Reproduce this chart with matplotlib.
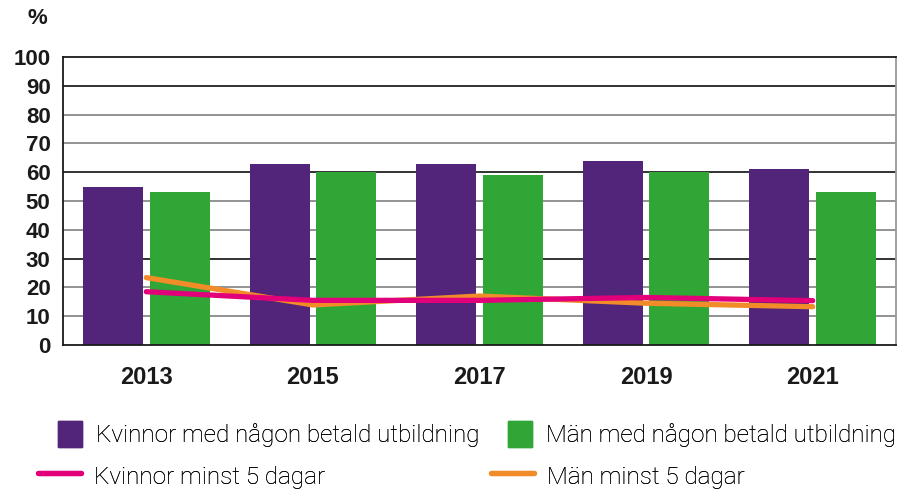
import numpy as np
import matplotlib

matplotlib.use("agg")
import matplotlib.pyplot as plt
from matplotlib.patches import Patch
from matplotlib.lines import Line2D

years = ["2013", "2015", "2017", "2019", "2021"]
kvinnor_utb = [55, 63, 63, 64, 61]
man_utb = [53, 60, 59, 60, 53]
kvinnor_5d = [18.5, 15.5, 15.5, 16.5, 15.4]
man_5d = [23.4, 13.9, 17, 14.5, 13.3]

purple = "#52247A"
green = "#30A636"
pink = "#E2007A"
orange = "#F28C28"

bold_font = ["Liberation Sans", "DejaVu Sans"]
legend_font = {"family": ["Roboto", "DejaVu Sans"], "weight": "light", "size": 17.5}

fig = plt.figure(figsize=(9, 4.9), dpi=100)
ax = fig.add_axes([63 / 900, 1 - 345 / 490, 833 / 900, 288 / 490])

x = np.arange(len(years))
w = 0.36
off = 0.2

# gridlines, a darker one every third step like the original
for v in range(10, 100, 10):
    col = "#222222" if v % 30 == 0 else "#8a8a8a"
    ax.axhline(v, color=col, lw=1.3, zorder=0)

ax.bar(x - off, kvinnor_utb, w, color=purple, zorder=2)
ax.bar(x + off, man_utb, w, color=green, zorder=2)
ax.plot(x, man_5d, color=orange, lw=3.8, solid_capstyle="round", zorder=3)
ax.plot(x, kvinnor_5d, color=pink, lw=3.8, solid_capstyle="round", zorder=4)

ax.set_xlim(-0.5, 4.5)
ax.set_ylim(0, 100)
ax.set_yticks(range(0, 101, 10))
ax.set_xticks(x)
ax.set_xticklabels(years)
ax.tick_params(axis="both", length=0)
ax.tick_params(axis="y", pad=9, labelsize=16)
ax.tick_params(axis="x", pad=15, labelsize=17)
for lab in ax.get_xticklabels() + ax.get_yticklabels():
    lab.set_fontweight("bold")
    lab.set_family(bold_font)
    lab.set_color("#1a1a1a")

for s in ["left", "top", "bottom"]:
    ax.spines[s].set_color("#1a1a1a")
    ax.spines[s].set_linewidth(1.3)
ax.spines["right"].set_color("#9a9a9a")
ax.spines["right"].set_linewidth(1.3)

fig.text(37 / 900, 1 - 18 / 490, "%", fontsize=16, fontweight="bold",
         family=bold_font, color="#1a1a1a", ha="center", va="center")

# one small legend per entry so each sits where the original has it
entries = [
    (Patch(color=purple), "Kvinnor med någon betald utbildning", 58, 434, 1.0),
    (Patch(color=green), "Män med någon betald utbildning", 508, 434, 1.0),
    (Line2D([], [], color=pink, lw=3.8, solid_capstyle="round"),
     "Kvinnor minst 5 dagar", 38, 476, 1.75),
    (Line2D([], [], color=orange, lw=3.8, solid_capstyle="round"),
     "Män minst 5 dagar", 491, 476, 1.75),
]
for handle, label, px, py, hl in entries:
    leg = fig.legend([handle], [label], frameon=False, loc="center left",
                     bbox_to_anchor=(px / 900, 1 - py / 490), borderpad=0,
                     borderaxespad=0, handlelength=hl, handleheight=1.3,
                     handletextpad=0.55, prop=legend_font)
    fig.add_artist(leg)

fig.savefig("out.png", dpi=100, facecolor="white")
